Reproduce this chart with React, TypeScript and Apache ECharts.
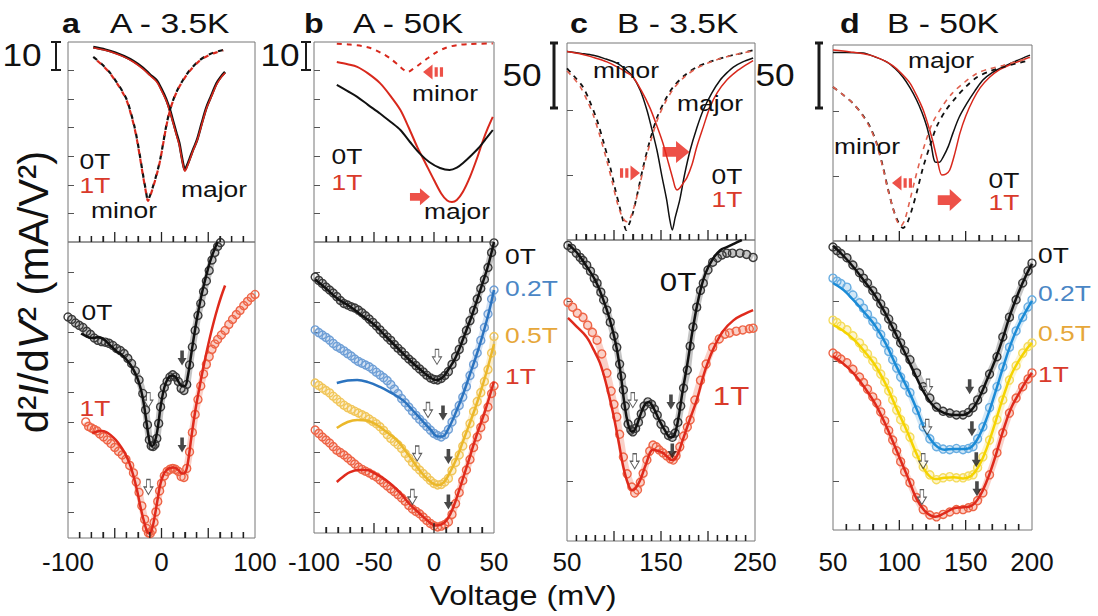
import React, { useEffect, useRef } from "react";
import * as echarts from "echarts";

const FONT = 'Arial, "Liberation Sans", Helvetica, sans-serif';

// ---------- axes: ranges, ticks, tick labels ----------
const A_X = [-100, 100];
const B_X = [-100, 50];
const C_X = [50, 250];
const D_X = [50, 200];
const A_MINOR = [-87.5, -75, -62.5, -37.5, -25, -12.5, 12.5, 25, 37.5, 62.5, 75, 87.5];
const A_MAJOR = [-50, 0, 50];
const A_LABELS = [-100, 0, 100];
const B_MINOR = [-90, -80, -70, -60, -40, -30, -20, -10, 10, 20, 30, 40];
const B_MAJOR = [-50, 0];
const B_LABELS = [-100, -50, 0, 50];
const C_MINOR = [60, 70, 80, 90, 110, 120, 130, 140, 160, 170, 180, 190, 210, 220, 230, 240];
const C_MAJOR = [100, 150, 200];
const C_LABELS = [50, 150, 250];
const D_MINOR = [60, 70, 80, 90, 110, 120, 130, 140, 160, 170, 180, 190];
const D_MAJOR = [100, 150];
const D_LABELS = [50, 100, 150, 200];

const AB_TOP_Y = [0, 70];
const AB_TOP_TICKS = [10, 20, 30, 40, 50, 60];
const A_BOT_Y = [-0.87, 9];
const B_BOT_Y = [-0.7, 9];
const AB_BOT_TICKS = [0, 1, 2, 3, 4, 5, 6, 7, 8];
const C_TOP_Y = [0, 151.5];
const D_TOP_Y = [0, 150.8];
const CD_TOP_TICKS = [50, 100];
const C_BOT_Y = [0, 5.02];
const C_BOT_TICKS = [1, 2, 3, 4];
const D_BOT_Y = [-0.82, 4];
const D_BOT_TICKS = [0, 1, 2, 3];

// ---------- panel a : model ----------
const A_MAJOR_0T = [[-73,68.2],[-60,67.3],[-50,66.3],[-40,65],[-30,63.3],[-20,61],[-12,58.5],[-5,56.5],[0,53.5],[5,50],[9,46.2],[13,41.5],[16,38],[19,34.6],[21,31],[23,27.5],[25,25.2],[27,26.5],[30,29],[34,32.5],[38,35.7],[43,41.5],[48,47],[53,51],[59,55.6],[64,58],[68,59.5]];
const A_MAJOR_1T = [[-73,68],[-60,67.1],[-50,66.1],[-40,64.8],[-30,63],[-20,60.6],[-12,58.2],[-5,56],[0,53],[5,49.5],[9,45.6],[13,41],[16,37.4],[19,34],[21,30.4],[23,27],[25,24.8],[27,26],[30,28.6],[34,32.2],[38,35.4],[43,41],[48,46.6],[53,50.6],[59,55.2],[64,57.7],[68,59.2]];
const A_MINOR_0T = [[-73,64.8],[-64,62.3],[-55,59.2],[-46,55],[-41,52.3],[-37,49.7],[-33,45.5],[-29,40.5],[-26,35.7],[-23,30],[-20,24],[-17,18.5],[-14.5,14.7],[-12,16.5],[-9,19.5],[-5,24],[-1.5,28.7],[2,35],[5,40.5],[9,46.2],[14,51],[19,54.5],[23,56.7],[30,60],[41,63.7],[52,65.8],[60,66.7],[66,67.2]];
const A_MINOR_1T = [[-73,64.6],[-64,62.1],[-55,59],[-46,54.7],[-41,52],[-37,49.3],[-33,45.1],[-29,40.1],[-26,35.3],[-23,29.6],[-20,23.6],[-17,18.1],[-14.5,14.4],[-12,16.2],[-9,19.2],[-5,23.7],[-1.5,28.5],[2,34.8],[5,40.3],[9,46],[14,50.8],[19,54.3],[23,56.5],[30,59.8],[41,63.5],[52,65.6],[60,66.5],[66,67]];
// ---------- panel a : data & fits ----------
const A_0T_DATA = [[-100,6.5],[-96,6.42],[-92,6.3],[-88,6.22],[-84,6.15],[-80,6.02],[-76,5.92],[-72,5.8],[-68,5.72],[-64,5.68],[-60,5.66],[-56,5.62],[-52,5.55],[-48,5.45],[-44,5.38],[-40,5.28],[-36,5.12],[-32,4.95],[-28,4.7],[-24,4.4],[-20,3.95],[-17,3.4],[-15,2.9],[-13,2.4],[-11,2.2],[-9,2.18],[-7,2.25],[-5,2.45],[-3,2.95],[-1,3.5],[1,3.9],[3,4.15],[6,4.35],[9,4.5],[12,4.57],[15,4.5],[18,4.35],[21,4.12],[24,4.05],[27,4.25],[30,4.9],[33,5.5],[36,6.05],[39,6.55],[42,6.95],[45,7.35],[48,7.7],[51,8.05],[54,8.4],[57,8.65],[60,8.85],[63,8.98]];
const A_0T_FIT = [[-86,5.95],[-80,5.85],[-74,5.8],[-68,5.82],[-63,5.78],[-58,5.65],[-53,5.5],[-48,5.35],[-43,5.25],[-38,5.1],[-33,4.9],[-28,4.62],[-24,4.3],[-20,3.8],[-17,3.2],[-14,2.55],[-12,2.25],[-10,2.2],[-7,2.35],[-4,2.8],[-1,3.5],[3,4.15],[7,4.45],[11,4.55],[15,4.5],[19,4.3],[22,4.2],[25,4.2],[28,4.5],[32,5.3],[36,6.1],[40,6.8],[44,7.4],[48,7.9],[52,8.35],[56,8.7],[60,9]];
const A_1T_DATA = [[-81,3],[-78,2.85],[-75,2.8],[-72,2.75],[-69,2.7],[-66,2.6],[-62,2.5],[-58,2.4],[-54,2.28],[-50,2.15],[-46,2.02],[-42,1.9],[-38,1.75],[-34,1.55],[-30,1.3],[-27,1],[-24,0.65],[-21,0.2],[-18,-0.25],[-16,-0.55],[-14,-0.7],[-12,-0.72],[-10,-0.62],[-8,-0.35],[-6,0],[-4,0.35],[-2,0.7],[0,0.95],[3,1.2],[6,1.35],[9,1.42],[12,1.45],[15,1.42],[18,1.35],[21,1.18],[24,1.15],[27,1.45],[30,2],[33,2.65],[36,3.25],[39,3.75],[42,4.2],[45,4.6],[48,4.92],[51,5.18],[54,5.42],[57,5.6],[60,5.75],[64,5.9],[68,6.05],[72,6.25],[76,6.42],[80,6.58],[84,6.72],[88,6.88],[92,7.02],[96,7.15],[100,7.25]];
const A_1T_FIT = [[-74,2.62],[-69,2.68],[-64,2.7],[-59,2.66],[-54,2.55],[-49,2.4],[-44,2.2],[-39,1.95],[-34,1.6],[-30,1.2],[-26,0.7],[-22,0.1],[-18,-0.4],[-15,-0.68],[-13,-0.72],[-10,-0.55],[-7,-0.1],[-4,0.45],[-1,0.95],[3,1.3],[8,1.45],[13,1.48],[18,1.4],[22,1.28],[25,1.3],[28,1.6],[32,2.5],[36,3.35],[40,4.05],[44,4.7],[48,5.3],[52,5.85],[56,6.35],[60,6.8],[64,7.2],[68,7.55]];
const A_OPEN = [[-14,3.73],[-14,0.83]];
const A_FILLED = [[22,5.13],[22,2.23]];

// ---------- panel b : model ----------
const B_MINOR_1T = [[-81,69.4],[-70,69.1],[-60,68.6],[-53,67.9],[-45,66.4],[-37,64.4],[-30,62],[-25,60.2],[-22,59.5],[-18,60.4],[-12,62.2],[-5,64.4],[2,66.4],[10,68],[19,68.9],[30,69.3],[49,69.5]];
const B_MAJOR_1T = [[-81,63],[-72,62.2],[-64,61.3],[-55,59],[-45,55.6],[-36,51],[-28,46.2],[-21,40],[-14,33.3],[-7,27.5],[0,21.7],[6,17],[11,14.5],[15,14],[19,14.7],[24,17.5],[30,22.8],[36,29.5],[41,35.7],[45,40],[49,43.8]];
const B_MAJOR_0T = [[-81,55],[-72,52.8],[-64,50.8],[-55,48],[-45,45],[-36,42],[-28,39.2],[-20,35],[-12,31],[-4,28],[5,25.9],[13,25.2],[19,26],[24,27.6],[31,30.3],[38,33.3],[44,36.5],[49,39.2]];
const B_SHIFT_MAJOR = [[-11.7,15.8]];
const B_SHIFT_MINOR = [[-0.8,59.5]];
// ---------- panel b : data & fits ----------
const B_0T_DATA = [[-99,7.83],[-96,7.72],[-93,7.62],[-90,7.5],[-87,7.4],[-84,7.3],[-81,7.18],[-78,7.05],[-75,6.95],[-72,6.9],[-69,6.84],[-66,6.8],[-63,6.73],[-60,6.64],[-57,6.54],[-54,6.43],[-51,6.32],[-48,6.2],[-45,6.07],[-42,5.95],[-39,5.83],[-36,5.72],[-33,5.58],[-30,5.46],[-27,5.35],[-24,5.22],[-21,5.1],[-18,5],[-15,4.88],[-12,4.77],[-9,4.67],[-6,4.56],[-3,4.47],[0,4.42],[3,4.4],[6,4.45],[9,4.55],[12,4.68],[15,4.92],[18,5.18],[21,5.42],[24,5.72],[27,6.05],[30,6.38],[33,6.72],[36,7.1],[39,7.45],[42,7.75],[45,8.15],[48,8.65],[50,8.97]];
const B_0T_FIT = [[-99,7.75],[-90,7.45],[-80,7.1],[-70,6.85],[-60,6.55],[-50,6.25],[-40,5.85],[-30,5.45],[-20,5.05],[-10,4.7],[-3,4.48],[2,4.4],[7,4.48],[12,4.75],[18,5.15],[25,5.85],[32,6.6],[39,7.45],[45,8.2],[50,9]];
const B_02T_DATA = [[-99,6.07],[-96,5.98],[-93,5.9],[-90,5.82],[-87,5.73],[-84,5.62],[-81,5.52],[-78,5.45],[-75,5.37],[-72,5.28],[-69,5.2],[-66,5.1],[-63,5.02],[-60,4.96],[-57,4.9],[-54,4.84],[-51,4.76],[-48,4.66],[-45,4.57],[-42,4.48],[-39,4.38],[-36,4.25],[-33,4.1],[-30,3.95],[-27,3.78],[-24,3.64],[-21,3.5],[-18,3.36],[-15,3.22],[-12,3.09],[-9,2.97],[-6,2.85],[-3,2.73],[0,2.62],[3,2.55],[6,2.5],[9,2.58],[12,2.75],[15,3],[18,3.3],[21,3.55],[24,3.83],[27,4.18],[30,4.55],[33,4.92],[36,5.3],[39,5.72],[42,6.15],[45,6.6],[48,7.1],[50,7.4]];
const B_02T_FIT = [[-81,4.3],[-72,4.38],[-64,4.4],[-55,4.33],[-45,4.17],[-36,3.98],[-26,3.73],[-18,3.4],[-10,3.05],[-3,2.75],[3,2.52],[7,2.52],[12,2.78],[18,3.3],[24,3.9],[30,4.6],[36,5.3],[42,6.1],[46,6.7],[50,7.4]];
const B_05T_DATA = [[-99,4.3],[-96,4.22],[-93,4.13],[-90,4.05],[-87,3.97],[-84,3.86],[-81,3.76],[-78,3.66],[-75,3.56],[-72,3.48],[-69,3.42],[-66,3.36],[-63,3.3],[-60,3.24],[-57,3.18],[-54,3.1],[-51,3.02],[-48,2.94],[-45,2.84],[-42,2.72],[-39,2.58],[-36,2.45],[-33,2.34],[-30,2.24],[-27,2.12],[-24,1.95],[-21,1.8],[-18,1.65],[-15,1.52],[-12,1.4],[-9,1.28],[-6,1.17],[-3,1.05],[0,0.95],[3,0.9],[6,0.92],[9,1],[12,1.12],[15,1.38],[18,1.65],[21,1.9],[24,2.2],[27,2.58],[30,2.95],[33,3.35],[36,3.68],[39,3.98],[42,4.35],[45,4.75],[48,5.3],[50,5.85]];
const B_05T_FIT = [[-81,2.8],[-72,3],[-64,3.07],[-56,3.05],[-47.5,2.9],[-39,2.65],[-31,2.4],[-23,2],[-15,1.55],[-8,1.2],[-2,0.98],[3,0.9],[8,0.98],[13,1.3],[19,1.8],[25,2.45],[32,3.2],[38,3.9],[44,4.7],[50,5.6]];
const B_1T_DATA = [[-99,2.73],[-96,2.62],[-93,2.5],[-90,2.4],[-87,2.3],[-84,2.18],[-81,2.06],[-78,1.98],[-75,1.9],[-72,1.8],[-69,1.7],[-66,1.6],[-63,1.5],[-60,1.42],[-57,1.36],[-54,1.3],[-51,1.23],[-48,1.17],[-45,1.07],[-42,0.97],[-39,0.87],[-36,0.77],[-33,0.68],[-30,0.58],[-27,0.47],[-24,0.36],[-21,0.22],[-18,0.1],[-15,0.02],[-12,-0.06],[-9,-0.17],[-6,-0.28],[-3,-0.38],[0,-0.46],[3,-0.5],[6,-0.47],[9,-0.42],[12,-0.33],[15,-0.08],[18,0.28],[21,0.65],[24,1.05],[27,1.4],[30,1.75],[33,2.15],[36,2.5],[39,2.82],[42,3.12],[45,3.5],[48,3.95],[50,4.2]];
const B_1T_FIT = [[-81,1],[-75,1.2],[-70,1.33],[-63,1.4],[-56,1.4],[-49,1.28],[-42.5,1.13],[-35,0.9],[-28,0.63],[-20,0.25],[-12,-0.05],[-5,-0.3],[1,-0.45],[6,-0.42],[11,-0.25],[16,0.15],[22,0.85],[28,1.6],[35,2.5],[42,3.3],[50,4.35]];
const B_OPEN = [[2.5,5.17],[-5,3.4],[-14,1.95],[-18,0.5]];
const B_FILLED = [[7.5,3.3],[12,1.85],[12,0.33]];

// ---------- panel c : model ----------
const C_MAJOR_0T = [[50,145],[65,143.5],[78,142],[90,139.5],[103,136],[112,131.5],[120,125.6],[128,115],[135,100],[140,86],[145.7,69],[151,49],[156,31],[159,17],[162,7.7],[165,17],[170,31],[175,50],[181,69],[188,86],[195,100],[204,113],[213,123],[220,128.5],[227,133],[237,137],[248,140]];
const C_MAJOR_1T = [[50,145],[65,143],[80,140],[92.5,137],[105,132.5],[113,129],[120,125.6],[129,115],[138,102],[145,89],[152,74.6],[158,59],[163,46],[165,40.5],[167,38.5],[170,40],[173,43],[177.6,48],[183,58],[188,71.5],[195,87],[202,102],[210,113.5],[220,123],[230,129.5],[240,134.5],[248,138]];
const C_MINOR_0T = [[50,132],[55,128],[60,124],[67,117.7],[74,107],[82,92],[89,75],[96,56],[101,40],[106,25.4],[110,14],[113,7.7],[116,12],[120,20.5],[125,36],[131,56],[138,76],[146,94.6],[154,107],[163,117.7],[175,126.5],[188,133],[204,137.5],[220,141],[235,143.5],[248,146]];
const C_MINOR_1T = [[50,130],[57,124.5],[64,118],[71,108],[78,96],[85,80],[92,62],[98,45],[103,30],[108,19],[112,14.5],[115,14],[118,18],[122,27],[127,41],[132,57],[139,76],[147,94],[155,106.5],[164,117],[176,126],[189,132.5],[205,137.5],[220,141],[235,143.5],[248,145.5]];
const C_SHIFT_MINOR = [[117,51.5]];
const C_SHIFT_MAJOR = [[166,67.7]];
// ---------- panel c : data & fits ----------
const C_0T_DATA = [[51,4.93],[55,4.88],[60,4.8],[64,4.73],[67,4.68],[71,4.6],[75,4.5],[79,4.38],[82,4.3],[86,4.15],[89,4.02],[92.5,3.85],[96,3.65],[100,3.42],[103,3.23],[106,2.95],[108,2.75],[110,2.52],[112,2.25],[115,1.95],[118,1.85],[120,1.82],[123,1.88],[126,1.98],[129,2.12],[132,2.25],[136,2.32],[140,2.28],[143,2.2],[146,2.1],[150,1.95],[154,1.85],[158,1.76],[162,1.73],[165,1.8],[168,1.98],[171,2.25],[174,2.55],[178,2.85],[181,3.25],[184,3.57],[188,3.9],[192,4.18],[195,4.3],[200,4.52],[205,4.65],[210,4.72],[215,4.77],[220,4.8],[226,4.8],[234,4.8],[241,4.78],[248,4.73]];
const C_0T_FIT = [[51,4.95],[60,4.82],[70,4.6],[80,4.35],[88,4.05],[95,3.72],[102,3.28],[107,2.8],[111,2.3],[115,1.95],[119,1.82],[123,1.88],[128,2.1],[133,2.28],[137,2.32],[142,2.22],[148,2.02],[154,1.85],[160,1.73],[164,1.76],[168,2],[173,2.5],[178,2.95],[184,3.55],[190,4.05],[197,4.45],[205,4.7],[213,4.85],[220,4.9],[228,4.96],[236,5.02]];
const C_1T_DATA = [[51,3.98],[56,3.9],[61,3.8],[67,3.73],[72,3.6],[77,3.48],[82,3.35],[87,3.12],[92.5,2.8],[97,2.5],[100,2.28],[103,2.07],[106,1.78],[110,1.4],[114,1.12],[119,0.9],[122,0.8],[125,0.85],[128,0.98],[131,1.13],[135,1.35],[138,1.5],[141.5,1.6],[145,1.57],[148,1.52],[152,1.47],[156,1.42],[160,1.37],[163,1.35],[166,1.42],[170,1.57],[174,1.75],[178,1.9],[181,2.02],[186,2.35],[192,2.68],[198,2.95],[205,3.23],[212,3.37],[218,3.45],[223,3.47],[230,3.5],[237,3.52],[244,3.54],[248,3.55]];
const C_1T_FIT = [[51,3.72],[60,3.58],[71,3.4],[78,3.2],[85,2.97],[92,2.6],[99,2.13],[105,1.65],[110,1.23],[115,0.95],[119,0.85],[123,0.88],[128,1.02],[134,1.28],[141.5,1.52],[147,1.5],[152,1.47],[157,1.4],[162,1.35],[167,1.42],[173,1.68],[180,2],[188,2.35],[196,2.8],[205,3.18],[216,3.5],[227,3.68],[238,3.78],[248,3.85]];
const C_OPEN = [[120,2.35],[122,1.33]];
const C_FILLED = [[160.6,2.32],[162,1.5]];

// ---------- panel d : model ----------
const D_MAJOR_0T = [[50,145],[60,145],[72.6,144.6],[82,141.5],[90.7,137.7],[97,132.5],[102.8,126],[108,118],[113,108.5],[117,99],[120.8,87.7],[124,74],[126.9,60.8],[130,60.5],[133,64.6],[137,73],[140.4,83],[145,95],[151,106],[157,115.5],[163,123.8],[170,129.5],[178,133.8],[188,138.5],[198.5,143]];
const D_MAJOR_1T = [[50,147],[63,145.5],[78,143],[87,139.5],[95,135],[102,128.5],[108,121.5],[113,112],[118,100.8],[121.5,90],[125,77.7],[128.5,63],[132,50.8],[135,51.5],[138,54.6],[142,68],[145.7,83],[150,96],[155.5,108.5],[161,118],[168,126],[175,131.5],[183,135.4],[191,138.5],[198.5,141.5]];
const D_MINOR_0T = [[50,118.5],[57,113],[65,106],[72,97.5],[78,87.7],[83,75],[87.7,57],[91,42],[95,26],[99,15],[102.8,10],[106,14],[110,26],[114,41],[118,57],[123,73],[128,87.7],[135,100.5],[143,110.8],[150,118.5],[158.5,126],[168,130.5],[178,133.8],[188,136.5],[198.5,139]];
const D_MINOR_1T = [[50,118.5],[57,113],[65,106],[72,97],[78,87],[83,74],[87.7,56],[91,41],[95,26],[98,16],[101,11.5],[104,16],[108,31.5],[111.5,46],[115.6,62],[120,77],[125,90.8],[132,103],[140,113.8],[149,122],[158.5,129],[168,132.5],[178,135],[188,138],[198.5,141]];
const D_SHIFT_MINOR = [[102,44.6]];
const D_SHIFT_MAJOR = [[138,31.5]];
// ---------- panel d : data & fits ----------
const D_0T_DATA = [[50,3.9],[53,3.84],[56,3.79],[60.5,3.72],[65,3.6],[70,3.47],[73,3.38],[76,3.3],[80,3.17],[83,3.07],[86,2.95],[89,2.83],[92,2.7],[95,2.57],[98,2.44],[101,2.3],[104,2.17],[108,2.02],[113,1.8],[118,1.57],[123,1.38],[128,1.23],[133,1.16],[138,1.13],[143,1.1],[148,1.1],[152,1.14],[155.5,1.22],[159,1.35],[163,1.52],[168,1.78],[173.6,2.07],[178,2.4],[183,2.73],[188,3.02],[193,3.3],[197,3.5],[200,3.63]];
const D_0T_FIT = [[50,3.92],[58,3.75],[66,3.55],[74,3.32],[82,3.08],[90,2.77],[98,2.42],[106,2.05],[113,1.72],[120,1.42],[127,1.22],[134,1.13],[141,1.1],[148,1.1],[154,1.17],[160,1.38],[166,1.68],[172,2],[178,2.38],[184,2.8],[190,3.15],[196,3.45],[200,3.62]];
const D_02T_DATA = [[50,3.38],[53,3.33],[56,3.29],[60.5,3.23],[65,3.1],[70,2.97],[73,2.88],[76,2.78],[80,2.66],[83,2.57],[86,2.44],[89,2.3],[92,2.16],[95,2.02],[98,1.88],[101,1.73],[104,1.6],[108,1.47],[113,1.18],[118,0.9],[123,0.7],[128,0.57],[133,0.53],[138,0.52],[143,0.54],[148,0.52],[152,0.54],[155.5,0.57],[159,0.7],[163,0.9],[168,1.22],[173.6,1.57],[178,1.9],[183,2.23],[188,2.5],[193,2.73],[197,2.9],[200,3.02]];
const D_02T_FIT = [[50,3.3],[58,3.18],[66,3],[74,2.8],[82,2.58],[90,2.28],[98,1.9],[106,1.55],[113,1.2],[120,0.82],[127,0.6],[134,0.52],[141,0.53],[148,0.53],[154,0.56],[160,0.74],[166,1.05],[172,1.45],[178,1.88],[184,2.28],[190,2.6],[196,2.85],[200,3]];
const D_05T_DATA = [[50,2.68],[53,2.64],[56,2.58],[60.5,2.52],[65,2.42],[70,2.3],[73,2.21],[76,2.12],[80,2],[83,1.9],[86,1.78],[89,1.65],[92,1.5],[95,1.35],[98,1.18],[101,1.02],[104,0.88],[108,0.73],[113,0.45],[118,0.23],[123,0.1],[128,0.02],[133,0.05],[138,0.07],[143,0.05],[148,0.05],[152,0.08],[155.5,0.1],[159,0.22],[163,0.4],[168,0.68],[173.6,1.02],[178,1.35],[183,1.68],[188,1.92],[193,2.13],[197,2.24],[200,2.3]];
const D_05T_FIT = [[50,2.6],[58,2.5],[66,2.35],[74,2.15],[82,1.92],[90,1.6],[98,1.2],[106,0.82],[113,0.45],[120,0.15],[127,0.03],[134,0.05],[141,0.06],[148,0.04],[154,0.08],[160,0.25],[166,0.55],[172,0.95],[178,1.38],[184,1.75],[190,2],[196,2.2],[200,2.3]];
const D_1T_DATA = [[50,2.13],[53,2.08],[56,2.03],[60.5,1.97],[65,1.86],[70,1.73],[73,1.64],[76,1.53],[80,1.4],[83,1.3],[86,1.15],[89,1],[92,0.84],[95,0.68],[98,0.5],[101,0.32],[104,0.15],[108,-0.03],[113,-0.28],[118,-0.48],[123,-0.57],[128,-0.6],[133,-0.56],[138,-0.52],[143,-0.48],[148,-0.48],[152,-0.45],[155.5,-0.43],[159,-0.33],[163,-0.2],[168,0.1],[173.6,0.47],[178,0.8],[183,1.13],[188,1.38],[193,1.57],[197,1.7],[200,1.8]];
const D_1T_FIT = [[50,2.08],[58,1.95],[66,1.78],[74,1.55],[82,1.28],[90,0.92],[98,0.5],[106,0.08],[113,-0.3],[120,-0.52],[127,-0.6],[134,-0.54],[141,-0.46],[148,-0.44],[154,-0.42],[160,-0.28],[166,0],[172,0.38],[178,0.82],[184,1.2],[190,1.45],[196,1.68],[200,1.8]];
const D_OPEN = [[121.6,1.57],[121,0.9],[118,0.33],[117,-0.27]];
const D_FILLED = [[153,1.57],[154.7,0.87],[158,0.35],[158.5,-0.13]];

// ---------- styling ----------
const K = "#111111";
const K_DATA = "#3a3a3a";
const R_MODEL = "#d8281c";
const R_DATA = "#ee6446";
const R_FIT = "#df2a1c";
const B_DATA_C = "#6f9fd6";
const B_FIT_C = "#2b73bf";
const Y_DATA_C = "#f1c65a";
const Y_FIT_C = "#ebb82a";
const D_B_DATA = "#69aee2";
const D_B_FIT = "#1b8bd6";
const D_Y_DATA = "#f5dc5c";
const D_Y_FIT = "#f5d400";
const L_BLUE = "#4a86c5";
const L_YEL = "#e6a73a";
const L_RED = "#d93a2b";

const GRIDS = [
  { left: 68, top: 42, width: 187, height: 200 },
  { left: 68, top: 242, width: 187, height: 296 },
  { left: 314, top: 42, width: 180, height: 200 },
  { left: 314, top: 242, width: 180, height: 291 },
  { left: 567, top: 43, width: 188, height: 197 },
  { left: 567, top: 240, width: 188, height: 301 },
  { left: 833, top: 45, width: 199, height: 196 },
  { left: 833, top: 241, width: 199, height: 289 },
];

const DOWN = "path://M3,0 L7,0 L7,7 L10,7 L5,14 L0,7 L3,7 Z";
const BIG_RIGHT = "path://M0,5 L11,5 L11,0 L22,9 L11,18 L11,13 L0,13 Z";
const TRI_LEFT = "path://M0,8 L9,0 L9,16 Z M11,3 L14,3 L14,13 L11,13 Z M16,3 L19,3 L19,13 L16,13 Z";
const TRI_RIGHT = "path://M19,8 L10,0 L10,16 Z M8,3 L5,3 L5,13 L8,13 Z M3,3 L0,3 L0,13 L3,13 Z";

// x-tick sets per grid: [gridIndex, range, minor, major, yRange]
const X_TICK_SETS: [number, number[], number[], number[], number[]][] = [
  [0, A_X, A_MINOR, A_MAJOR, AB_TOP_Y],
  [1, A_X, A_MINOR, A_MAJOR, A_BOT_Y],
  [2, B_X, B_MINOR, B_MAJOR, AB_TOP_Y],
  [3, B_X, B_MINOR, B_MAJOR, B_BOT_Y],
  [4, C_X, C_MINOR, C_MAJOR, C_TOP_Y],
  [5, C_X, C_MINOR, C_MAJOR, C_BOT_Y],
  [6, D_X, D_MINOR, D_MAJOR, D_TOP_Y],
  [7, D_X, D_MINOR, D_MAJOR, D_BOT_Y],
];

function xAxisFor(gi: number, range: number[], minor: number[], labels: number[] | null, margin: number) {
  return {
    type: "value", gridIndex: gi, min: range[0], max: range[1], position: "bottom",
    axisLine: { show: false, onZero: false }, splitLine: { show: false },
    axisTick: { show: true, inside: true, length: 6, customValues: minor, lineStyle: { color: "#222", width: 1.3 } },
    axisLabel: labels
      ? { show: true, customValues: labels, fontSize: 26, fontFamily: FONT, color: "#111", margin, formatter: (v: number) => String(v) }
      : { show: false },
  };
}

function yAxisFor(gi: number, range: number[], ticks: number[]) {
  return {
    type: "value", gridIndex: gi, min: range[0], max: range[1], position: "left",
    axisLine: { show: false, onZero: false }, splitLine: { show: false }, axisLabel: { show: false },
    axisTick: { show: true, inside: true, length: 6, customValues: ticks, lineStyle: { color: "#555" } },
  };
}

function model(gi: number, data: number[][], color: string, dashed = false, offset = 0, width = 2) {
  return {
    type: "line", xAxisIndex: gi, yAxisIndex: gi, data, showSymbol: false, smooth: 0.3, silent: true, z: 3,
    lineStyle: { color, width, type: dashed ? [5, 5] : "solid", dashOffset: offset },
  };
}
function dataPts(gi: number, data: number[][], color: string) {
  return {
    type: "line", xAxisIndex: gi, yAxisIndex: gi, data, symbol: "circle", symbolSize: 8, showAllSymbol: true,
    smooth: 0.3, silent: true, z: 2,
    itemStyle: { color: "rgba(255,255,255,0)", borderColor: color, borderWidth: 1.4 },
    lineStyle: { color, width: 7, opacity: 0.3 },
  };
}
function fit(gi: number, data: number[][], color: string, width = 2.5) {
  return {
    type: "line", xAxisIndex: gi, yAxisIndex: gi, data, showSymbol: false, smooth: 0.4, silent: true, z: 4,
    lineStyle: { color, width },
  };
}
function arrows(gi: number, data: number[][], filled: boolean) {
  return {
    type: "scatter", xAxisIndex: gi, yAxisIndex: gi, data, symbol: DOWN, symbolSize: [9, 15], silent: true, z: 6,
    itemStyle: filled ? { color: "#1a1a1a" } : { color: "#ffffff", borderColor: "#333", borderWidth: 1 },
  };
}
function shift(gi: number, data: number[][], sym: string, size: number[]) {
  return {
    type: "scatter", xAxisIndex: gi, yAxisIndex: gi, data, symbol: sym, symbolSize: size, silent: true, z: 6,
    itemStyle: { color: "#e8261a" },
  };
}

function txt(text: string, x: number, y: number, size: number, color = "#111", align = "center", bold = false, sx = 1.2) {
  return {
    type: "text", x, y, scaleX: sx, z: 100, silent: true,
    style: {
      text, fill: color, fontSize: size, fontFamily: FONT, fontWeight: bold ? "bold" : "normal",
      textAlign: align, textVerticalAlign: "middle",
    },
  };
}
function seg(x1: number, y1: number, x2: number, y2: number, w: number, color = "#1a1a1a") {
  return { type: "line", z: 100, silent: true, shape: { x1, y1, x2, y2 }, style: { stroke: color, lineWidth: w } };
}
function scaleBar(x: number, y1: number, y2: number, cap: number, w: number) {
  return [seg(x, y1, x, y2, w), seg(x - cap, y1, x + cap, y1, w), seg(x - cap, y2, x + cap, y2, w)];
}

// tick marks on the bottom edge of each grid, placed with the axis range of that grid
function xTickMarks(): any[] {
  const out: any[] = [];
  X_TICK_SETS.forEach(([gi, range, minor, major]) => {
    const g = GRIDS[gi];
    const yb = g.top + g.height;
    const px = (v: number) => g.left + ((v - range[0]) / (range[1] - range[0])) * g.width;
    minor.forEach((v) => out.push(seg(px(v), yb - 6, px(v), yb, 1.3, "#222")));
    major.forEach((v) => out.push(seg(px(v), yb - 10, px(v), yb, 1.3, "#222")));
  });
  return out;
}

function buildGraphic(): any[] {
  return [
    // panel titles
    txt("a", 62, 23, 28, "#111", "left", true, 1.15),
    txt("A - 3.5K", 110, 23, 28, "#111", "left"),
    txt("b", 304, 23, 28, "#111", "left", true, 1.15),
    txt("A - 50K", 353, 23, 28, "#111", "left"),
    txt("c", 570, 23, 28, "#111", "left", true, 1.15),
    txt("B - 3.5K", 617, 23, 28, "#111", "left"),
    txt("d", 840, 23, 28, "#111", "left", true, 1.15),
    txt("B - 50K", 887, 23, 28, "#111", "left"),
    // scale bars
    txt("10", 22, 55, 32, "#111", "center", false, 1.1),
    ...scaleBar(56, 42, 70, 5, 2),
    txt("10", 280, 55, 32, "#111", "center", false, 1.1),
    ...scaleBar(306, 42, 70, 5, 2),
    txt("50", 522, 75, 32, "#111", "center", false, 1.1),
    ...scaleBar(554, 43, 108, 4, 3),
    txt("50", 775, 75, 32, "#111", "center", false, 1.1),
    ...scaleBar(819, 43, 108, 4, 3),
    // panel a annotations
    txt("0T", 95, 161, 22),
    txt("1T", 95, 185, 22, L_RED),
    txt("major", 214, 189, 22),
    txt("minor", 124, 210, 22),
    txt("0T", 97, 312, 22),
    txt("1T", 95, 408, 22, L_RED),
    // panel b annotations
    txt("0T", 347, 156, 22),
    txt("1T", 347, 182, 22, L_RED),
    txt("minor", 445, 93, 22),
    txt("major", 457, 211, 22),
    txt("0T", 505, 256, 22, "#111", "left"),
    txt("0.2T", 505, 288, 22, L_BLUE, "left"),
    txt("0.5T", 505, 335, 22, L_YEL, "left"),
    txt("1T", 505, 376, 22, L_RED, "left"),
    // panel c annotations
    txt("minor", 626, 70, 22),
    txt("major", 710, 103, 22),
    txt("0T", 727, 176, 22),
    txt("1T", 727, 199, 22, L_RED),
    txt("0T", 678, 282, 26),
    txt("1T", 731, 396, 26, L_RED),
    // panel d annotations
    txt("major", 941, 60, 22),
    txt("minor", 867, 146, 22),
    txt("0T", 1004, 180, 22),
    txt("1T", 1004, 202, 22, L_RED),
    txt("0T", 1038, 255, 22, "#111", "left"),
    txt("0.2T", 1038, 293, 22, L_BLUE, "left"),
    txt("0.5T", 1038, 333, 22, L_YEL, "left"),
    txt("1T", 1038, 374, 22, L_RED, "left"),
    // axis titles
    txt("Voltage (mV)", 523, 595, 27, "#111", "center", false, 1.2),
    {
      type: "text", x: 33, y: 292, rotation: Math.PI / 2, z: 100, silent: true,
      style: {
        text: "{n|d²}{i|I}{n|/d}{i|V}{n|² (mA/V²)}",
        textAlign: "center", textVerticalAlign: "middle",
        fill: "#111",
        rich: {
          n: { fontSize: 42, fontFamily: FONT, fill: "#111", color: "#111" },
          i: { fontSize: 42, fontFamily: FONT, fontStyle: "italic", fill: "#111", color: "#111" },
        },
      },
    },
    ...xTickMarks(),
  ];
}

function buildOption() {
  const xAxis = [
    xAxisFor(0, A_X, A_MINOR, null, 0),
    xAxisFor(1, A_X, A_MINOR, A_LABELS, 11),
    xAxisFor(2, B_X, B_MINOR, null, 0),
    xAxisFor(3, B_X, B_MINOR, B_LABELS, 16),
    xAxisFor(4, C_X, C_MINOR, null, 0),
    xAxisFor(5, C_X, C_MINOR, C_LABELS, 8),
    xAxisFor(6, D_X, D_MINOR, null, 0),
    xAxisFor(7, D_X, D_MINOR, D_LABELS, 19),
  ];
  const yAxis = [
    yAxisFor(0, AB_TOP_Y, AB_TOP_TICKS),
    yAxisFor(1, A_BOT_Y, AB_BOT_TICKS),
    yAxisFor(2, AB_TOP_Y, AB_TOP_TICKS),
    yAxisFor(3, B_BOT_Y, AB_BOT_TICKS),
    yAxisFor(4, C_TOP_Y, CD_TOP_TICKS),
    yAxisFor(5, C_BOT_Y, C_BOT_TICKS),
    yAxisFor(6, D_TOP_Y, CD_TOP_TICKS),
    yAxisFor(7, D_BOT_Y, D_BOT_TICKS),
  ];
  const series = [
    // a top
    model(0, A_MAJOR_0T, K, false, 0, 2.6),
    model(0, A_MAJOR_1T, R_MODEL, false, 0, 1.6),
    model(0, A_MINOR_0T, K, true, 0, 2.2),
    model(0, A_MINOR_1T, R_MODEL, true, 5, 2.2),
    // a bottom
    dataPts(1, A_0T_DATA, K_DATA),
    dataPts(1, A_1T_DATA, R_DATA),
    fit(1, A_0T_FIT, K),
    fit(1, A_1T_FIT, R_FIT),
    arrows(1, A_OPEN, false),
    arrows(1, A_FILLED, true),
    // b top
    model(2, B_MINOR_1T, R_MODEL, true, 0, 2),
    model(2, B_MAJOR_1T, R_MODEL, false, 0, 2),
    model(2, B_MAJOR_0T, K, false, 0, 2),
    shift(2, B_SHIFT_MAJOR, BIG_RIGHT, [20, 17]),
    shift(2, B_SHIFT_MINOR, TRI_LEFT, [20, 15]),
    // b bottom
    dataPts(3, B_0T_DATA, K_DATA),
    dataPts(3, B_02T_DATA, B_DATA_C),
    dataPts(3, B_05T_DATA, Y_DATA_C),
    dataPts(3, B_1T_DATA, R_DATA),
    fit(3, B_0T_FIT, K),
    fit(3, B_02T_FIT, B_FIT_C),
    fit(3, B_05T_FIT, Y_FIT_C),
    fit(3, B_1T_FIT, R_FIT),
    arrows(3, B_OPEN, false),
    arrows(3, B_FILLED, true),
    // c top
    model(4, C_MAJOR_0T, K, false, 0, 1.5),
    model(4, C_MAJOR_1T, R_MODEL, false, 0, 1.5),
    model(4, C_MINOR_0T, K, true, 0, 1.8),
    model(4, C_MINOR_1T, "#e0604e", true, 0, 1.6),
    shift(4, C_SHIFT_MINOR, TRI_RIGHT, [20, 15]),
    shift(4, C_SHIFT_MAJOR, BIG_RIGHT, [27, 22]),
    // c bottom
    dataPts(5, C_0T_DATA, K_DATA),
    dataPts(5, C_1T_DATA, R_DATA),
    fit(5, C_0T_FIT, K),
    fit(5, C_1T_FIT, R_FIT),
    arrows(5, C_OPEN, false),
    arrows(5, C_FILLED, true),
    // d top
    model(6, D_MAJOR_0T, K, false, 0, 1.5),
    model(6, D_MAJOR_1T, R_MODEL, false, 0, 1.5),
    model(6, D_MINOR_0T, K, true, 0, 1.8),
    model(6, D_MINOR_1T, "#e0604e", true, 0, 1.6),
    shift(6, D_SHIFT_MINOR, TRI_LEFT, [20, 15]),
    shift(6, D_SHIFT_MAJOR, BIG_RIGHT, [24, 22]),
    // d bottom
    dataPts(7, D_0T_DATA, K_DATA),
    dataPts(7, D_02T_DATA, D_B_DATA),
    dataPts(7, D_05T_DATA, D_Y_DATA),
    dataPts(7, D_1T_DATA, R_DATA),
    fit(7, D_0T_FIT, K),
    fit(7, D_02T_FIT, D_B_FIT),
    fit(7, D_05T_FIT, D_Y_FIT),
    fit(7, D_1T_FIT, R_FIT),
    arrows(7, D_OPEN, false),
    arrows(7, D_FILLED, true),
  ];

  return {
    animation: false,
    backgroundColor: "#ffffff",
    grid: GRIDS.map((g) => ({ ...g, show: true, borderColor: "#777", borderWidth: 1, backgroundColor: "transparent" })),
    xAxis,
    yAxis,
    series,
    graphic: { elements: buildGraphic() },
  };
}

export default function App() {
  const ref = useRef<HTMLDivElement>(null);
  useEffect(() => {
    const chart = echarts.init(ref.current!, null, { renderer: "svg" });
    chart.setOption(buildOption() as any);
    return () => chart.dispose();
  }, []);
  return (
    <div
      ref={ref}
      style={{ position: "fixed", left: 0, top: 0, width: 1098, height: 616, background: "#fff" }}
    />
  );
}
